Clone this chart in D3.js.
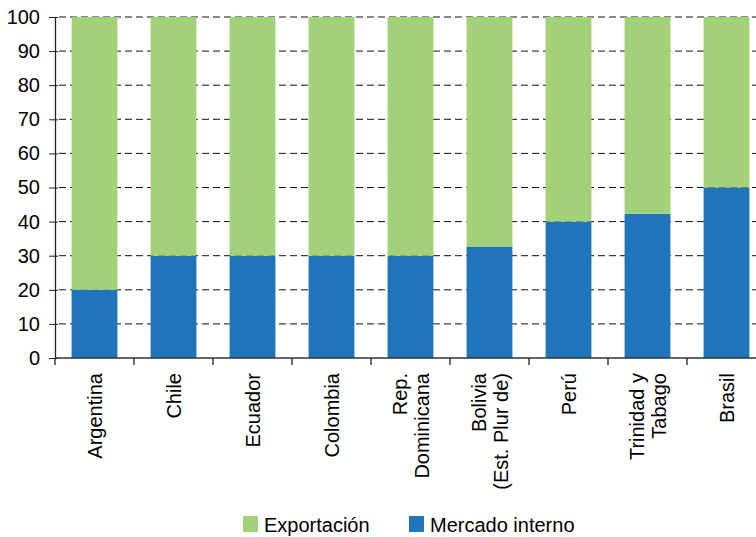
<!DOCTYPE html>
<html>
<head>
<meta charset="utf-8">
<script src="https://cdn.jsdelivr.net/npm/d3@7"></script>
<style>
  body { margin: 0; background: #fff; }
  text { font-family: "Liberation Sans", Arial, sans-serif; fill: #000; }
</style>
</head>
<body>
<svg id="chart"></svg>
<script>
const countries = [
    ["Argentina"], ["Chile"], ["Ecuador"], ["Colombia"],
    ["Rep.", "Dominicana"], ["Bolivia", "(Est. Plur de)"], ["Perú"],
    ["Trinidad y", "Tabago"], ["Brasil"]
];
const mercadoInterno = [20, 30, 30, 30, 30, 32.7, 40, 42.3, 50];
const exportacion = mercadoInterno.map(v => 100 - v);
const yTicks = [0, 10, 20, 30, 40, 50, 60, 70, 80, 90, 100];
const seriesNames = ["Exportación", "Mercado interno"];
const colors = {"Exportación": "#a3d17a", "Mercado interno": "#1f74ba"};

const width = 756, height = 537;
const margin = {top: 17, left: 55, bottom: 179};
const plotRight = 766;

const svg = d3.select('#chart')
    .attr('width', width)
    .attr('height', height);

const keys = countries.map((c, i) => i);

const x = d3.scaleBand()
    .domain(keys)
    .range([margin.left, plotRight])
    .paddingInner(0.42)
    .paddingOuter(0.21);

const y = d3.scaleLinear()
    .domain([0, 100])
    .range([height - margin.bottom, margin.top]);

// dashed grid lines behind the bars
svg.append('g')
    .selectAll('line')
    .data(yTicks.filter(d => d > 0))
    .join('line')
    .attr('x1', margin.left + 4)
    .attr('x2', plotRight)
    .attr('y1', d => y(d))
    .attr('y2', d => y(d))
    .attr('stroke', '#111')
    .attr('stroke-width', 1)
    .attr('stroke-dasharray', '7,4');

const rows = keys.map(i => ({
    key: i,
    "Mercado interno": mercadoInterno[i],
    "Exportación": exportacion[i]
}));

const stacked = d3.stack().keys(["Mercado interno", "Exportación"])(rows);

svg.append('g')
    .selectAll('g')
    .data(stacked)
    .join('g')
    .attr('fill', d => colors[d.key])
    .selectAll('rect')
    .data(d => d)
    .join('rect')
    .attr('x', d => x(d.data.key))
    .attr('width', x.bandwidth())
    .attr('y', d => y(d[1]))
    .attr('height', d => y(d[0]) - y(d[1]));

// y axis, ticks crossing the line
const yAxis = d3.axisLeft(y)
    .tickValues(yTicks)
    .tickSize(6)
    .tickSizeOuter(0);

const yg = svg.append('g')
    .attr('transform', `translate(${margin.left},0)`)
    .call(yAxis);
yg.select('.domain').attr('stroke', '#222').attr('stroke-width', 1.3);
yg.selectAll('.tick line').attr('x2', 3).attr('x1', -6).attr('stroke', '#222');
yg.selectAll('.tick text')
    .attr('x', -15)
    .style('font-size', '20px');

// x axis with ticks between categories
const xg = svg.append('g')
    .attr('transform', `translate(0,${y(0)})`);
xg.append('line')
    .attr('x1', margin.left)
    .attr('x2', plotRight)
    .attr('stroke', '#333')
    .attr('stroke-width', 1.5);
const step = x.step();
xg.selectAll('.sep')
    .data(keys)
    .join('line')
    .attr('class', 'sep')
    .attr('x1', d => x(d) - x.paddingInner() * step / 2)
    .attr('x2', d => x(d) - x.paddingInner() * step / 2)
    .attr('y1', 0)
    .attr('y2', 7)
    .attr('stroke', '#222')
    .attr('stroke-width', 1.3);

// rotated category labels
const lineH = 22;
xg.selectAll('.lbl')
    .data(keys)
    .join('text')
    .attr('class', 'lbl')
    .attr('transform', d => {
        const n = countries[d].length;
        const cx = x(d) + x.bandwidth() / 2 - (n - 1) * lineH / 2 + 7;
        return `translate(${cx},15) rotate(-90)`;
    })
    .attr('text-anchor', 'end')
    .style('font-size', '20px')
    .selectAll('tspan')
    .data(d => countries[d])
    .join('tspan')
    .attr('x', 0)
    .attr('dy', (t, j) => j === 0 ? 0 : lineH)
    .text(t => t);

// legend
const legend = svg.append('g')
    .attr('transform', 'translate(243,516)');
const legendX = [0, 166];
legend.selectAll('g')
    .data(seriesNames)
    .join('g')
    .attr('transform', (d, i) => `translate(${legendX[i]},0)`)
    .each(function (d) {
        const g = d3.select(this);
        g.append('rect')
            .attr('width', 15)
            .attr('height', 16)
            .attr('fill', colors[d]);
        g.append('text')
            .attr('x', 21)
            .attr('y', 16)
            .style('font-size', '20px')
            .text(d);
    });
</script>
</body>
</html>
